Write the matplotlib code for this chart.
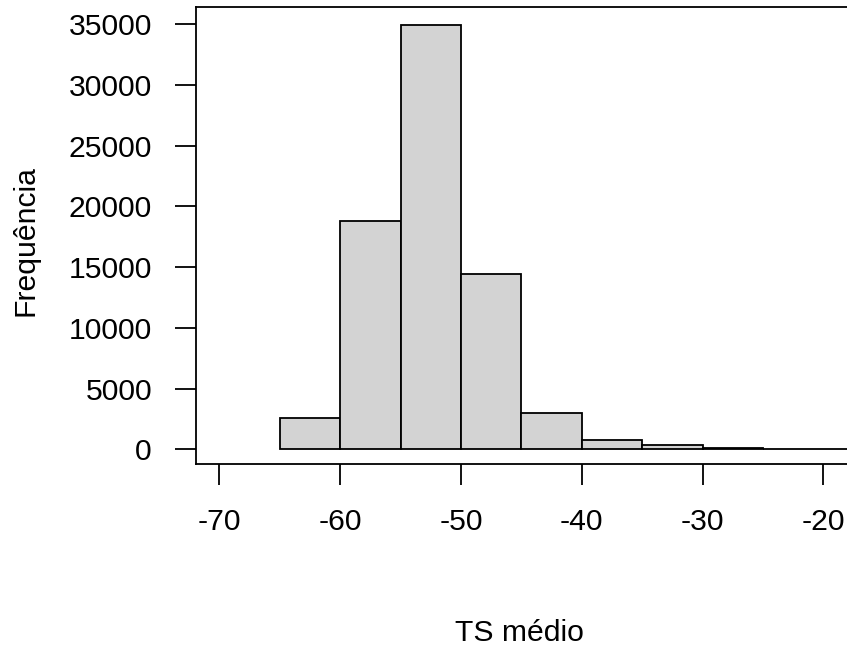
import numpy as np
import matplotlib
matplotlib.use("Agg")
from matplotlib import pyplot as plt

# histogram of TS medio (bins of width 5)
bin_edges = [-65, -60, -55, -50, -45, -40, -35, -30, -25, -20, -15]
counts = [2550, 18800, 34950, 14400, 3010, 770, 330, 130, 30, 10]
x_ticks = [-70, -60, -50, -40, -30, -20]
y_ticks = [0, 5000, 10000, 15000, 20000, 25000, 30000, 35000]

plt.rcParams["font.family"] = ["Liberation Sans", "DejaVu Sans"]
fs = 21.7

fig = plt.figure(figsize=(8.47, 6.51), dpi=100)
# plot box runs past the right edge of the picture, like the cropped original
ax = fig.add_axes([0.2311, 0.2873, 0.8315, 0.7015])

widths = np.diff(bin_edges)
ax.bar(bin_edges[:-1], counts, width=widths, align="edge",
       color="#d3d3d3", edgecolor="black", linewidth=1.3)

ax.set_xlim(-71.95, -13.65)
ax.set_ylim(-1210, 36400)
ax.set_xticks(x_ticks)
ax.set_xticklabels([str(t) for t in x_ticks])
ax.set_yticks(y_ticks)
ax.set_yticklabels([str(t) for t in y_ticks])

for s in ax.spines.values():
    s.set_linewidth(1.3)
    s.set_color("black")

ax.tick_params(axis="both", length=15, width=1.3, labelsize=fs, color="black")
ax.tick_params(axis="x", pad=17)
ax.tick_params(axis="y", pad=16.5)

fig.text(519 / 847, 1 - 633 / 651, "TS médio", fontsize=fs,
         ha="center", va="center")
fig.text(25 / 847, 1 - 241 / 651, "Frequência", fontsize=fs,
         ha="center", va="center", rotation=90)

fig.savefig("out.png", dpi=100)
